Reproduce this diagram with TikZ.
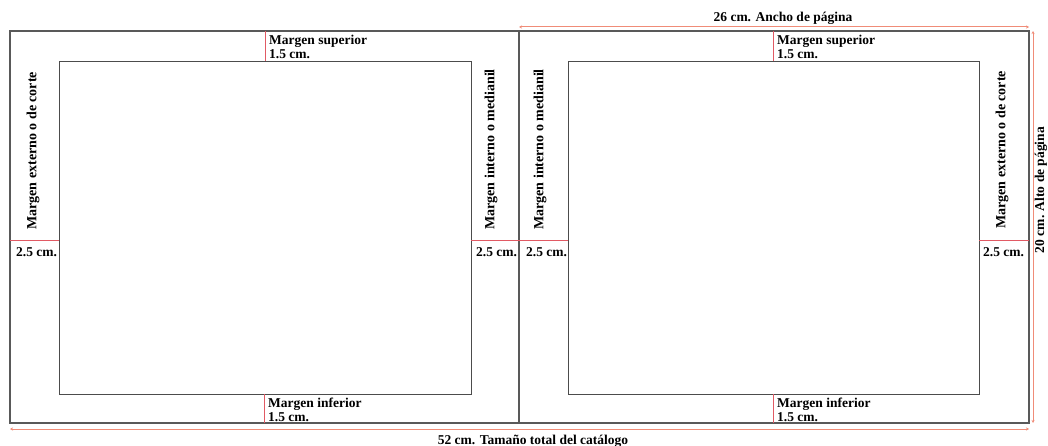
\documentclass[tikz,border=0pt]{standalone}
\usepackage{fontspec}
\setmainfont{Liberation Serif}
\usetikzlibrary{arrows.meta}
\definecolor{dimc}{RGB}{240,140,120}
\definecolor{marc}{RGB}{225,90,100}
\begin{document}
\begin{tikzpicture}[x=1pt,y=-1pt,
  outer/.style={draw=black!65,line width=1.3pt},
  inner/.style={draw=black!70,line width=0.8pt},
  mline/.style={draw=marc,line width=0.6pt},
  dimline/.style={draw=dimc,line width=1pt,{Stealth[length=3pt,width=3pt]}-{Stealth[length=3pt,width=3pt]}},
  lbl/.style={font=\bfseries\fontsize{13.5}{14}\selectfont,inner sep=0pt,align=left},
  vlbl/.style={font=\bfseries\fontsize{14}{15}\selectfont,inner sep=0pt,rotate=90,anchor=west}]
\useasboundingbox[fill=white] (0,0) rectangle (1048,446);
% pages
\coordinate (OTL) at (10,31);
\coordinate (OBR) at (1029,423);
\coordinate (MT) at (519,31);
\coordinate (MB) at (519,423);
% labels first so that the frame lines overlap them as in the reference
\node[lbl,anchor=north west] (sup1) at (269,35) {Margen superior\\1.5 cm.};
\node[lbl,anchor=north west] (sup2) at (777,35) {Margen superior\\1.5 cm.};
\node[lbl,anchor=north west] (inf1) at (268,398) {Margen inferior\\1.5 cm.};
\node[lbl,anchor=north west] (inf2) at (777,398) {Margen inferior\\1.5 cm.};
\fill[white] (59,61) rectangle (471,394);
\fill[white] (568,61) rectangle (979,394);
\fill[white] (10,423.6) rectangle (1029,427);
\draw[outer] (OTL) rectangle (OBR);
\draw[outer] (MT) -- (MB);
\draw[inner] (59,61) rectangle (471,394);
\draw[inner] (568,61) rectangle (979,394);
% top margins
\coordinate (ST1a) at (265,31); \coordinate (ST1b) at (265,61);
\coordinate (ST2a) at (773,31); \coordinate (ST2b) at (773,61);
\draw[mline] (ST1a) -- (ST1b);
\draw[mline] (ST2a) -- (ST2b);
% bottom margins
\coordinate (SB1a) at (264,394); \coordinate (SB1b) at (264,423);
\coordinate (SB2a) at (773,394); \coordinate (SB2b) at (773,423);
\draw[mline] (SB1a) -- (SB1b);
\draw[mline] (SB2a) -- (SB2b);
% side margins
\coordinate (L1) at (10,240); \coordinate (L2) at (59,240);
\coordinate (M1) at (471,240); \coordinate (M2) at (568,240);
\coordinate (R1) at (979,240); \coordinate (R2) at (1029,240);
\draw[mline] (L1) -- (L2);
\draw[mline] (M1) -- (M2);
\draw[mline] (R1) -- (R2);
\node[lbl,anchor=north west] (c1) at (16,247) {2.5 cm.};
\node[lbl,anchor=north west] (c2) at (476,247) {2.5 cm.};
\node[lbl,anchor=north west] (c3) at (526,247) {2.5 cm.};
\node[lbl,anchor=north west] (c4) at (983,247) {2.5 cm.};
\node[vlbl] (v1) at (33,230) {Margen externo o de corte};
\node[vlbl] (v2) at (491,230) {Margen interno o medianil};
\node[vlbl] (v3) at (540,230) {Margen interno o medianil};
\node[vlbl] (v4) at (1002,229) {Margen externo o de corte};
% dimensions
\coordinate (DT1) at (519,27); \coordinate (DT2) at (1029,27);
\draw[dimline] (DT1) -- (DT2);
\node[lbl,anchor=base] (dt) at (783,22) {26 cm. Ancho de página};
\coordinate (DR1) at (1033,31); \coordinate (DR2) at (1033,423);
\draw[dimline] (DR1) -- (DR2);
\node[lbl,rotate=90] (dr) at (1041,190) {20 cm. Alto de página};
\coordinate (DB1) at (10,429); \coordinate (DB2) at (1029,429);
\draw[dimline] (DB1) -- (DB2);
\node[lbl,anchor=base] (db) at (533,444) {52 cm. Tamaño total del catálogo};
\end{tikzpicture}
\end{document}
